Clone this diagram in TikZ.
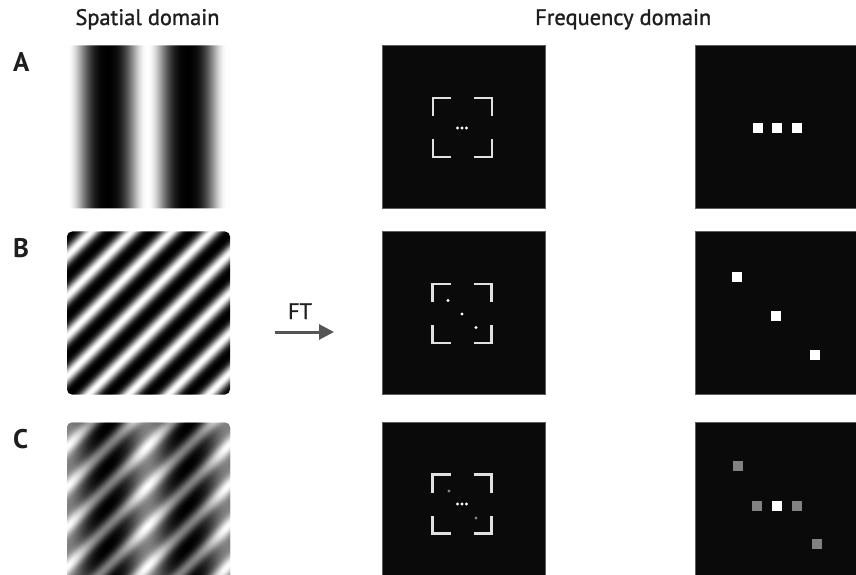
\documentclass[tikz,border=0pt]{standalone}
\usepackage{fontspec}
\setmainfont{PT Sans}
\usetikzlibrary{arrows.meta}

\makeatletter
% #1 name, #2 length (integer bp), #3 period, #4 position of white crest, #5 linear share (0..1), #6 height
\newcommand\buildgrating[6]{%
  \pgfmathsetmacro\gr@k{360/#3}%
  \pgfmathsetmacro\gr@u{(1+cos(\gr@k*(0-#4)))/2}%
  \pgfmathsetmacro\gr@v{\gr@u*(#5+(1-#5)*\gr@u)}%
  \xdef\gr@spec{rgb(0bp)=(\gr@v,\gr@v,\gr@v)}%
  \foreach \s in {1,...,#2}{%
    \pgfmathsetmacro\gr@u{(1+cos(\gr@k*(\s-#4)))/2}%
    \pgfmathsetmacro\gr@v{\gr@u*(#5+(1-#5)*\gr@u)}%
    \xdef\gr@spec{\gr@spec; rgb(\s bp)=(\gr@v,\gr@v,\gr@v)}%
  }%
  \edef\gr@tmp{\noexpand\pgfdeclarehorizontalshading{#1}{#6}{\gr@spec}}%
  \gr@tmp
}
\makeatother

\buildgrating{gratA}{163}{80}{80}{0.35}{163bp}
\buildgrating{gratB}{240}{28.3}{134.7}{0.2}{240bp}

\definecolor{panelbk}{RGB}{10,10,10}
\definecolor{panelrim}{RGB}{95,95,95}
\definecolor{brk}{RGB}{225,225,225}
\definecolor{dimdot}{RGB}{130,130,130}
\definecolor{tagink}{RGB}{30,30,30}
\definecolor{arrowgray}{RGB}{85,85,85}

\tikzset{
  darkpanel/.style={fill=panelbk, draw=panelrim, line width=0.8bp},
  bracketline/.style={draw=brk, line width=2.2bp},
  fdot/.style={circle, fill=white, inner sep=0pt, minimum size=3.3bp},
  fdotdim/.style={circle, fill=dimdot, inner sep=0pt, minimum size=3.3bp},
  fsq/.style={rectangle, fill=white, inner sep=0pt, minimum size=9.5bp},
  fsqdim/.style={rectangle, fill=dimdot, inner sep=0pt, minimum size=9.5bp},
  heading/.style={inner sep=0pt, font=\fontsize{22.5}{26}\selectfont\addfontfeatures{FakeBold=1.2}, text=tagink},
  rowtag/.style={inner sep=0pt, font=\fontsize{27}{30}\selectfont\bfseries, text=tagink},
  gratnode/.style={inner sep=0pt, outer sep=0pt},
  pics/brackets/.style={code={
    \draw[bracketline] (-29.5,-11.5) -- (-29.5,-29.5) -- (-11.5,-29.5);
    \draw[bracketline] (11.5,-29.5) -- (29.5,-29.5) -- (29.5,-11.5);
    \draw[bracketline] (-29.5,11.5) -- (-29.5,29.5) -- (-11.5,29.5);
    \draw[bracketline] (11.5,29.5) -- (29.5,29.5) -- (29.5,11.5);
  }}
}

\begin{document}
\begin{tikzpicture}[x=1bp, y=-1bp]
\useasboundingbox (0,0) rectangle (856,575);

% headings
\node[heading, anchor=base] (hsp) at (147.5,25) {Spatial domain};
\node[heading, anchor=base west] (hfr) at (535,25) {Frequency domain};

% row tags
\node[rowtag, anchor=base west] (tA) at (13,72) {A};
\node[rowtag, anchor=base west] (tB) at (13,257) {B};
\node[rowtag, anchor=base west] (tC) at (13,448) {C};

% ---- spatial domain ----
\begin{scope}
  \clip[rounded corners=5bp] (67,45.5) rectangle (230,208.5);
  \node[gratnode] (gA) at (148.5,127) {\pgfuseshading{gratA}};
\end{scope}
\begin{scope}
  \clip[rounded corners=5bp] (67,231.5) rectangle (230,394.5);
  \node[gratnode, rotate=-45] (gB) at (148.5,313) {\pgfuseshading{gratB}};
\end{scope}
\begin{scope}
  \clip[rounded corners=5bp] (67,422.5) rectangle (230,585.5);
  \node[gratnode, rotate=-45] (gC1) at (148.5,504) {\pgfuseshading{gratB}};
  \node[gratnode, opacity=0.5] (gC2) at (148.5,504) {\pgfuseshading{gratA}};
\end{scope}

% FT arrow
\node[heading, anchor=base] (ft) at (300,319) {FT};
\coordinate (arS) at (275,332);
\coordinate (arE) at (334,332);
\draw[arrowgray, line width=3bp, -{Triangle[length=15bp, width=15bp]}] (arS) -- (arE);

% ---- frequency domain, full view ----
\path[darkpanel] (382,45.5) rectangle (545,208.5);
\path[darkpanel] (382,231.5) rectangle (545,394.5);
\path[darkpanel] (382,422.5) rectangle (545,585.5);

\pic at (462.5,127.5) {brackets};
\pic at (462,313.5) {brackets};
\pic at (462,504) {brackets};

\node[fdot] (a1) at (457.5,128) {};
\node[fdot] (a2) at (462,128) {};
\node[fdot] (a3) at (466.5,128) {};

\node[fdot] (b1) at (448,300.5) {};
\node[fdot] (b2) at (462,314) {};
\node[fdot] (b3) at (476,327.5) {};

\node[fdot] (c1) at (457.5,504) {};
\node[fdot] (c2) at (462,504) {};
\node[fdot] (c3) at (466.5,504) {};
\node[fdotdim] (c4) at (449,491) {};
\node[fdotdim] (c5) at (476,518) {};

% ---- frequency domain, zoomed ----
\path[darkpanel] (695,45.5) rectangle (859,208.5);
\path[darkpanel] (695,231.5) rectangle (859,394.5);
\path[darkpanel] (695,422.5) rectangle (859,585.5);

\node[fsq] (za1) at (758,128) {};
\node[fsq] (za2) at (777,128) {};
\node[fsq] (za3) at (797,128) {};

\node[fsq] (zb1) at (737,277) {};
\node[fsq] (zb2) at (776,316) {};
\node[fsq] (zb3) at (815,355) {};

\node[fsqdim] (zc1) at (738,466) {};
\node[fsqdim] (zc2) at (757,506) {};
\node[fsq] (zc3) at (777,506) {};
\node[fsqdim] (zc4) at (797,506) {};
\node[fsqdim] (zc5) at (817,544) {};
\end{tikzpicture}
\end{document}
